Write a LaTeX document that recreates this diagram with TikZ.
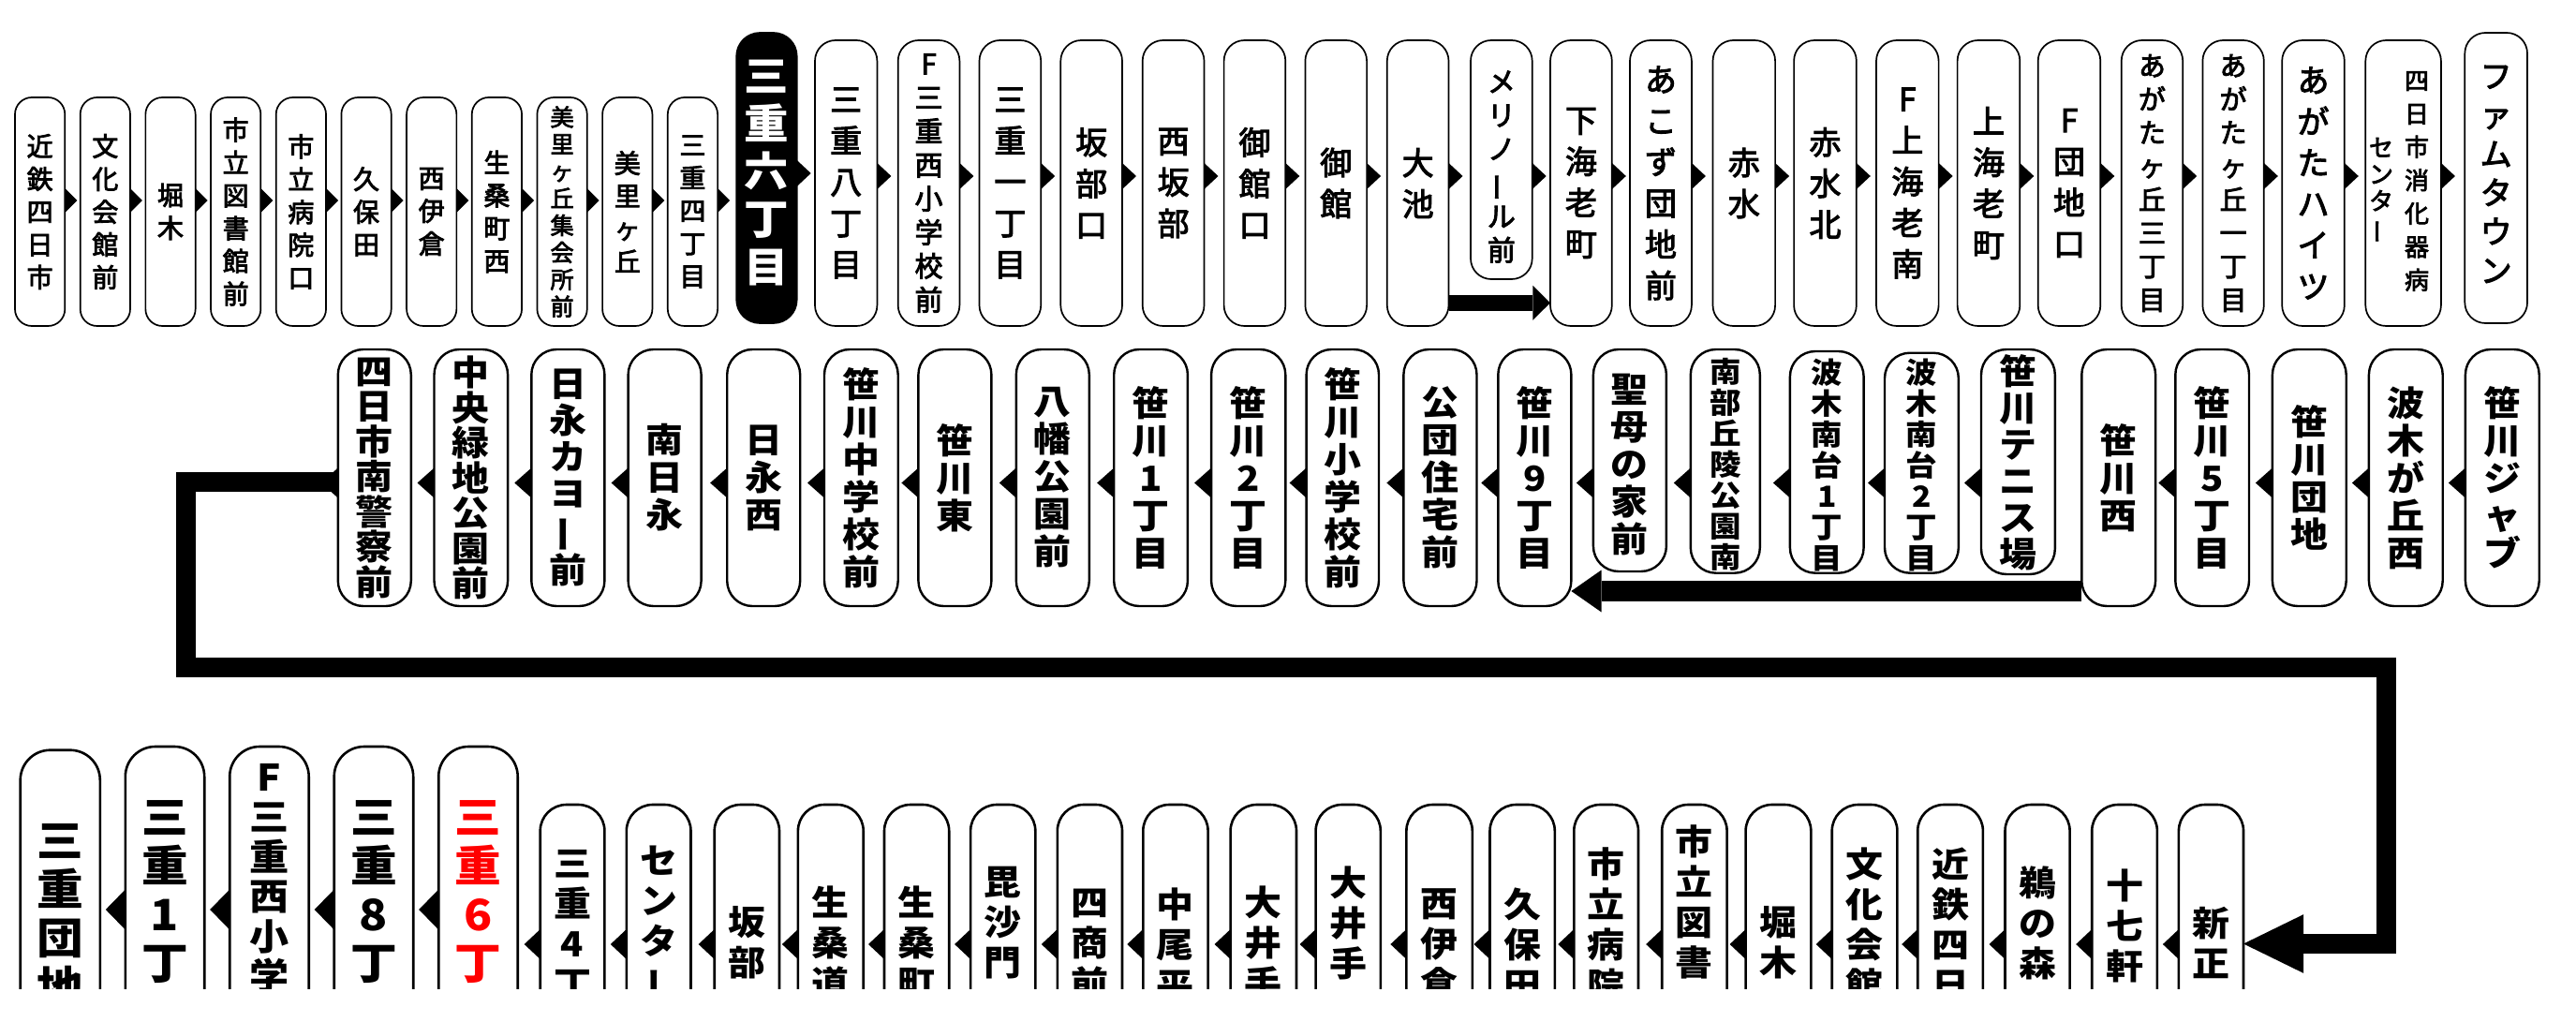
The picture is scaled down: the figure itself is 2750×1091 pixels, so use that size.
\documentclass[tikz,border=0pt]{standalone}
\usepackage{fontspec}
\usepackage{graphicx}
\usetikzlibrary{calc}
\newfontfamily\jp{Noto Sans CJK JP}
\newfontfamily\jpm{Noto Sans CJK JP}[FakeBold=3]
\newfontfamily\jpb{Noto Sans CJK JP}[FakeStretch=1.08]
\def\vtStop{\vtStop}
\long\def\vtFirst#1#2{#1}
\long\def\vtSecond#1#2{#2}
\def\vt#1{\vtA#1\vtStop}
\def\vtA#1#2\vtStop{#1\ifx\vtStop#2\vtStop\expandafter\vtSecond\else\expandafter\vtFirst\fi{\\\vtA#2\vtStop}{}}
\newcommand\VB{\rotatebox[origin=c]{90}{ー}}
\newcommand\SB[6]{%
 \pgfmathsetmacro\sbw{#4-#3}\pgfmathsetmacro\sbh{#6-#5}%
 \pgfmathsetmacro\sbx{(#3+#4)/2}\pgfmathsetmacro\sby{(#5+#6)/2}%
 \node[#2, minimum width=\sbw pt, minimum height=\sbh pt] (#1) at (\sbx,\sby) {};}
\newcommand\TriR[4]{\coordinate (tc) at (0,#2);\fill (#1.east |- tc) ++(0,-#4) -- ++(#3,#4) -- ++(-#3,#4) -- cycle;}
\newcommand\TriL[4]{\coordinate (tc) at (0,#2);\fill (#1.west |- tc) ++(0,-#4) -- ++(-#3,#4) -- ++(#3,#4) -- cycle;}
\begin{document}
\begin{tikzpicture}[x=1pt,y=-1pt,
  bx/.style={draw=black,fill=white,inner sep=0pt,outer sep=0pt},
  boxA/.style={bx,line width=1.7pt,rounded corners=18pt},
  boxB/.style={bx,line width=1.7pt,rounded corners=22pt},
  boxK/.style={bx,fill=black,line width=1.7pt,rounded corners=25pt},
  boxC/.style={bx,line width=2.4pt,rounded corners=27pt},
  boxD/.style={bx,line width=2.6pt,rounded corners=32pt},
  boxE/.style={bx,line width=2.6pt,rounded corners=28pt},
  tx/.style={inner sep=0pt,align=center},
  tA/.style={tx,font=\jpm\fontsize{28}{35}\selectfont},
  tA9/.style={tx,font=\jpm\fontsize{25}{28.9}\selectfont},
  tK/.style={tx,text=white,font=\jpb\bfseries\fontsize{44}{51}\selectfont},
  tB/.style={tx,font=\jpm\fontsize{34}{44}\selectfont},
  tB2/.style={tx,font=\jpm\fontsize{30}{36}\selectfont},
  tB3/.style={tx,font=\jpm\fontsize{29}{35.7}\selectfont},
  tBr/.style={tx,font=\jpm\fontsize{26}{35.5}\selectfont},
  tBl/.style={tx,font=\jpm\fontsize{26}{28.5}\selectfont},
  tBf/.style={tx,font=\jpm\fontsize{34}{41.5}\selectfont},
  tC/.style={tx,font=\jpb\bfseries\fontsize{37}{40}\selectfont},
  tC7/.style={tx,font=\jpb\bfseries\fontsize{37}{37.5}\selectfont},
  tC6/.style={tx,font=\jpb\bfseries\fontsize{37}{39}\selectfont},
  tCs/.style={tx,font=\jpb\bfseries\fontsize{31}{33}\selectfont},
  tD/.style={tx,font=\jpb\bfseries\fontsize{46}{52}\selectfont},
  tD2/.style={tx,font=\jpb\bfseries\fontsize{39}{42.5}\selectfont},
  tE/.style={tx,font=\jpb\bfseries\fontsize{37}{43}\selectfont},
]
\fill[white] (0,0) rectangle (2750,1091);
% ---------- Row 1, group A ----------
\foreach \nm/\xL/\sty/\lbl in {1/16/tA/近鉄四日市,2/85.68/tA/文化会館前,3/155.36/tA/堀木,4/225.04/tA/市立図書館前,5/294.72/tA/市立病院口,6/364.4/tA/久保田,7/434.08/tA/西伊倉,8/503.76/tA/生桑町西,9/573.44/tA9/美里ヶ丘集会所前,10/643.12/tA/美里ヶ丘,11/712.8/tA/三重四丁目}{
  \pgfmathsetmacro\xR{\xL+53.3}
  \SB{a\nm}{boxA}{\xL}{\xR}{104}{348}
  \node[\sty] (ta\nm) at (a\nm.center) {\expandafter\vt\expandafter{\lbl}};
  \TriR{a\nm}{214}{13}{13}
}
\SB{a12}{boxK}{786.2}{850.7}{35}{345}
\node[tK] (ta12) at (818.45,185) {\vt{三重六丁目}};
\TriR{a12}{185}{15}{14}
% ---------- Row 1, group B ----------
\foreach \nm/\xL/\xR/\sty/\lbl in {13/870/936.4/tB/三重八丁目,14/958.7/1024.4/tB2/F三重西小学校前,15/1045.5/1111.2/tB/三重一丁目,16/1132.3/1198/tB/坂部口,17/1219.7/1285.5/tB/西坂部,18/1306.6/1372.3/tB/御館口,19/1393.4/1459.1/tB/御館,20/1480.8/1546.5/tB/大池,22/1655/1720.8/tB/下海老町,23/1740/1805.9/tB/あこず団地前,24/1828.5/1895.1/tB/赤水,25/1915.1/1981.8/tB/赤水北,26/2003/2069.6/tB/F上海老南,27/2089.6/2156.3/tB/上海老町,28/2175.7/2242.3/tB/F団地口,29/2264.7/2330.2/tB3/あがたヶ丘三丁目,30/2351.4/2416.8/tB3/あがたヶ丘一丁目,31/2436.2/2502.8/tB/あがたハイツ}{
  \SB{b\nm}{boxB}{\xL}{\xR}{43}{348}
  \node[\sty] (tb\nm) at (b\nm.center) {\expandafter\vt\expandafter{\lbl}};
  \TriR{b\nm}{188}{15}{14}
}
\SB{b21}{boxB}{1570}{1635.7}{43}{298}
\node[tB2] (tb21) at (1602.85,178) {\vt{メリノ\VB ル前}};
\TriR{b21}{188}{15}{14}
\SB{b32}{boxB}{2525.3}{2605.9}{43}{348}
\node[tBr] (tb32a) at (2580,193.5) {\vt{四日市消化器病}};
\node[tBl] (tb32b) at (2542,203.5) {\vt{センタ\VB}};
\TriR{b32}{188}{15}{14}
\SB{b33}{boxB}{2631.3}{2698}{35}{345}
\node[tBf] (tb33) at (2664.65,186) {\vt{ファムタウン}};
% big arrow row 1
\coordinate (h1) at (1636.3,323.3);
\draw[line width=16.7pt] (b20.east |- h1) -- (h1);
\fill ($(h1)+(0,-18.5)$) -- (b22.west |- h1) -- ($(h1)+(0,18.5)$) -- cycle;
% ---------- Row 2 ----------
\foreach \nm/\xL/\xR/\sty/\lbl in {1/360.8/438.8/tC7/四日市南警察前,2/463.5/542.1/tC7/中央緑地公園前,3/567.3/645.4/tC6/日永カヨ\VB 前,4/670.6/748.6/tC/南日永,5/776.2/854.2/tC/日永西,6/880/958.7/tC/笹川中学校前,7/980.4/1058.4/tC/笹川東,8/1084.8/1162.8/tC/八幡公園前,9/1189.2/1267.9/tC/笹川1丁目,10/1293.1/1372.3/tC/笹川2丁目,11/1394.6/1472/tC/笹川小学校前,12/1498.4/1576.5/tC/公団住宅前,13/1599.3/1677.4/tC/笹川9丁目,19/2222.3/2301.1/tC/笹川西,20/2322.3/2401/tC/笹川5丁目,21/2425.9/2504.7/tC/笹川団地,22/2528.9/2607.7/tC/波木が丘西,23/2631.9/2710.7/tC/笹川ジャブ}{
  \SB{m\nm}{boxC}{\xL}{\xR}{373}{647}
  \node[\sty] (tm\nm) at (m\nm.center) {\expandafter\vt\expandafter{\lbl}};
  \ifnum\nm=19\else\TriL{m\nm}{515.5}{18}{16}\fi
}
\SB{m14}{boxC}{1700.9}{1778.9}{373}{610}
\node[tC] (tm14) at (1739.9,496) {\vt{聖母の家前}};
\TriL{m14}{515.5}{18}{16}
\SB{m15}{boxC}{1804.8}{1878.8}{373}{611.7}
\node[tCs] (tm15) at (1841.8,496) {\vt{南部丘陵公園南}};
\TriL{m15}{515.5}{18}{16}
\SB{m16}{boxC}{1910.9}{1989.6}{375}{611.7}
\node[tCs] (tm16) at (1950.25,496) {\vt{波木南台1丁目}};
\TriL{m16}{515.5}{18}{16}
\SB{m17}{boxC}{2012}{2090.8}{376.7}{611.7}
\node[tCs] (tm17) at (2051.4,496) {\vt{波木南台2丁目}};
\TriL{m17}{515.5}{18}{16}
\SB{m18}{boxC}{2115}{2193.8}{373}{613}
\node[tC6] (tm18) at (2154.4,494) {\vt{笹川テニス場}};
\TriL{m18}{515.5}{18}{16}
% big arrow row 2
\coordinate (h2) at (1709.6,631);
\draw[line width=22pt] (m19.west |- h2) -- (h2);
\fill ($(h2)+(0,-22.5)$) -- (m13.east |- h2) -- ($(h2)+(0,22.5)$) -- cycle;
% ---------- Row 3 (cut at the bottom) ----------
\begin{scope}
\clip (0,0) rectangle (2750,1055);
\SB{B1}{boxD}{21.7}{106.8}{800.7}{1160}
\node[tD] (tB1) at (64.25,977) {\vt{三重団地}};
\SB{B2}{boxD}{133.8}{218.2}{797}{1160}
\node[tD] (tB2) at (176,952) {\vt{三重1丁}};
\TriL{B2}{971}{21}{21.5}
\SB{B3}{boxD}{245.2}{329.7}{797}{1160}
\node[tD2] (tB3) at (287.45,938) {\vt{F三重西小学}};
\TriL{B3}{971}{21}{21.5}
\SB{B4}{boxD}{356.7}{441.2}{797}{1160}
\node[tD] (tB4) at (398.95,952) {\vt{三重8丁}};
\TriL{B4}{971}{21}{21.5}
\SB{B5}{boxD}{468.2}{552.7}{797}{1160}
\node[tD,text=red] (tB5) at (510.45,952) {\vt{三重6丁}};
\TriL{B5}{971}{21}{21.5}
\foreach \nm/\xL/\xR/\yT/\lbl in {1/576.7/645.4/987.5/三重4丁,2/668.8/737.5/987.5/センタ\VB,3/762.7/832/1006.5/坂部,4/851.9/921.7/1006/生桑道,5/944/1013.2/1006/生桑町,6/1036.1/1105.3/985/毘沙門,7/1128.8/1198/1008/四商前,8/1220.3/1289.6/1008/中尾平,9/1313.6/1384/1006/大井手,10/1404.6/1473.8/985/大井手,11/1501.4/1571.8/1008/西伊倉,12/1590.5/1659.8/1008/久保田,13/1680.3/1749/986.5/市立病院,14/1774.2/1843.6/962.5/市立図書,15/1863.6/1933.3/1006.5/堀木,16/1955.7/2025.4/986.5/文化会館,17/2047.2/2116.9/986.5/近鉄四日,18/2140.5/2209.6/985/鵜の森,19/2233.2/2302.9/988/十七軒,20/2325.9/2395/1006.5/新正}{
  \SB{S\nm}{boxE}{\xL}{\xR}{859}{1160}
  \pgfmathsetmacro\xC{(\xL+\xR)/2}
  \node[tE] (tS\nm) at (\xC,\yT) {\expandafter\vt\expandafter{\lbl}};
  \TriL{S\nm}{1008}{17}{16}
}
\end{scope}
% long connector from row 2 to row 3
\coordinate (c1) at (198.5,514.5);
\coordinate (c2) at (198.5,712.5);
\coordinate (c3) at (2547.7,712.5);
\coordinate (c4) at (2547.7,1007.5);
\coordinate (h3) at (2459,1007.5);
\draw[line width=21pt] (m1.west |- c1) -- (c1) -- (c2) -- (c3) -- (c4) -- (h3);
\fill ($(h3)+(0,-31.3)$) -- (S20.east |- h3) -- ($(h3)+(0,31.3)$) -- cycle;
\end{tikzpicture}
\end{document}
